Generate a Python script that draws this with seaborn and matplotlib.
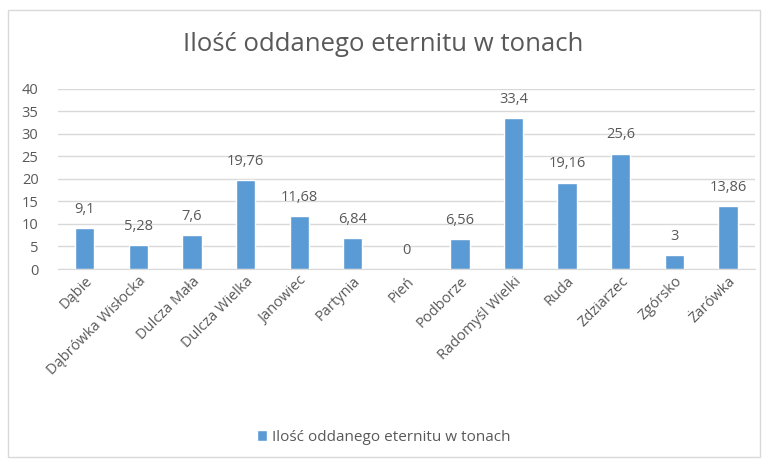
import matplotlib
matplotlib.use("Agg")
import matplotlib.pyplot as plt
import seaborn as sns
import pandas as pd
from matplotlib.patches import Rectangle, Patch

# data
places = ["Dąbie", "Dąbrówka Wisłocka", "Dulcza Mała", "Dulcza Wielka", "Janowiec",
          "Partynia", "Pień", "Podborze", "Radomyśl Wielki", "Ruda", "Zdziarzec",
          "Zgórsko", "Żarówka"]
tons = [9.1, 5.28, 7.6, 19.76, 11.68, 6.84, 0, 6.56, 33.4, 19.16, 25.6, 3, 13.86]
value_labels = ["9,1", "5,28", "7,6", "19,76", "11,68", "6,84", "0", "6,56",
                "33,4", "19,16", "25,6", "3", "13,86"]
series_name = "Ilość oddanego eternitu w tonach"

df = pd.DataFrame({"Miejscowość": places, "Tony": tons})

sns.set_style("white")
plt.rcParams['font.family'] = ['Open Sans', 'DejaVu Sans']

text_col = "#595959"
bar_col = "#5B9BD5"

fig = plt.figure(figsize=(7.67, 4.65), dpi=100)
ax = fig.add_axes([0.0756, 0.4215, 0.9084, 0.388])

sns.barplot(data=df, x="Miejscowość", y="Tony", color=bar_col, width=0.36,
            saturation=1, ax=ax, zorder=3)

ax.set_ylim(0, 40)
ax.set_yticks(range(0, 41, 5))
ax.set_xlim(-0.5, len(places) - 0.5)
ax.yaxis.grid(True, color="#D9D9D9", linewidth=1, zorder=0)
ax.set_axisbelow(True)
for s in ["top", "right", "left"]:
    ax.spines[s].set_visible(False)
ax.spines["bottom"].set_color("#D9D9D9")
ax.set_xlabel("")
ax.set_ylabel("")
ax.tick_params(axis="both", length=0, colors=text_col, labelsize=10.5)
ax.tick_params(axis="y", pad=14)
ax.set_xticks(range(len(places)))
ax.set_xticklabels(places, rotation=45, ha="right", rotation_mode="anchor")

for i, (v, lab) in enumerate(zip(tons, value_labels)):
    ax.annotate(lab, (i, v), xytext=(0, 8), textcoords="offset points",
                ha="center", va="bottom", fontsize=10.5, color=text_col)

fig.text(0.5, 0.905, series_name, ha="center", va="center", fontsize=18.5,
         color=text_col)

fig.legend(handles=[Patch(facecolor=bar_col, label=series_name)],
           loc="center", bbox_to_anchor=(0.5, 0.06), frameon=False,
           fontsize=11, handlelength=0.7, handleheight=0.7, handletextpad=0.3,
           labelcolor=text_col)

# chart border
fig.patches.append(Rectangle((8 / 767, 1 - 457 / 465), 752 / 767, 447 / 465,
                             transform=fig.transFigure, fill=False,
                             edgecolor="#D9D9D9", linewidth=1))

fig.savefig("out.png", dpi=100)
